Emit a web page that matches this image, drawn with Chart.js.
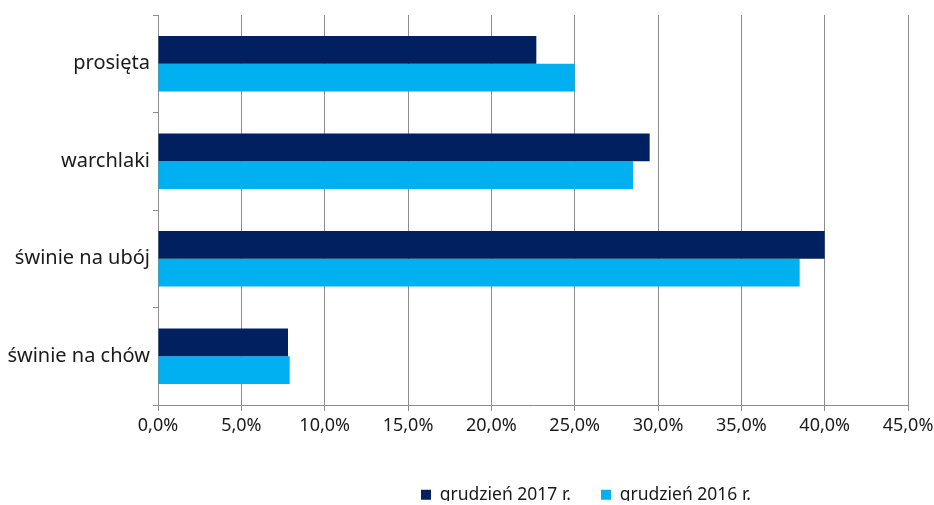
<!DOCTYPE html>
<html>
<head>
<meta charset="utf-8">
<script src="https://cdn.jsdelivr.net/npm/chart.js@4/dist/chart.umd.min.js"></script>
<style>
  html, body { margin: 0; padding: 0; background: #fff; }
  #wrap { width: 934px; height: 505px; }
</style>
</head>
<body>
<div id="wrap"><canvas id="graph"></canvas></div>
<script>
var categories = ["prosięta", "warchlaki", "świnie na ubój", "świnie na chów"];
var values2017 = [22.7, 29.5, 40.0, 7.8];
var values2016 = [25.0, 28.5, 38.5, 7.9];
var seriesLabels = ["grudzień 2017 r.", "grudzień 2016 r."];

var FONT = "'Noto Sans', sans-serif";
var GRID = "#8c8c8c";
var TEXT = "#1a1a1a";

// fixed legend height, and the items start where the original ones do
var legendPlace = {
  id: "legendPlace",
  beforeLayout: function(chart) {
    var lg = chart.legend;
    if (!lg || lg._wrapped) return;
    var fit = lg.fit;
    lg.fit = function() {
      fit.call(this);
      this.height = 45;
    };
    lg._wrapped = true;
  },
  beforeDraw: function(chart) {
    var lg = chart.legend;
    if (!lg) return;
    var w = lg.right - lg.left;
    lg.left = 421 - lg.options.labels.padding;
    lg.right = lg.left + w;
  }
};

var ctx = document.getElementById("graph").getContext("2d");
var chart = new Chart(ctx, {
  type: "bar",
  data: {
    labels: categories,
    datasets: [{
      label: seriesLabels[0],
      data: values2017,
      backgroundColor: "#002060",
      categoryPercentage: 0.57,
      barPercentage: 1.0
    }, {
      label: seriesLabels[1],
      data: values2016,
      backgroundColor: "#00b0f0",
      categoryPercentage: 0.57,
      barPercentage: 1.0
    }]
  },
  options: {
    indexAxis: "y",
    responsive: true,
    maintainAspectRatio: false,
    animation: false,
    layout: { padding: { top: 14, right: 26, bottom: 4, left: 0 } },
    plugins: {
      tooltip: { enabled: false },
      legend: {
        position: "bottom",
        align: "start",
        labels: {
          boxWidth: 10,
          boxHeight: 10,
          padding: 30,
          color: TEXT,
          font: { family: FONT, size: 17.5 }
        }
      }
    },
    scales: {
      x: {
        min: 0,
        max: 45,
        ticks: {
          stepSize: 5,
          color: TEXT,
          padding: 4,
          font: { family: FONT, size: 18 },
          callback: function(v) { return v.toFixed(1).replace(".", ",") + "%"; }
        },
        grid: { color: GRID, tickLength: 6, drawTicks: true },
        border: { color: GRID },
        afterFit: function(s) {
          s.height = 51;
          s.paddingRight = 26;
        }
      },
      y: {
        ticks: {
          color: TEXT,
          padding: 3,
          font: { family: FONT, size: 20 }
        },
        grid: { color: GRID, drawOnChartArea: false, tickLength: 5, offset: true },
        border: { color: GRID },
        afterFit: function(s) { s.width = 158; }
      }
    }
  },
  plugins: [legendPlace]
});
</script>
</body>
</html>
